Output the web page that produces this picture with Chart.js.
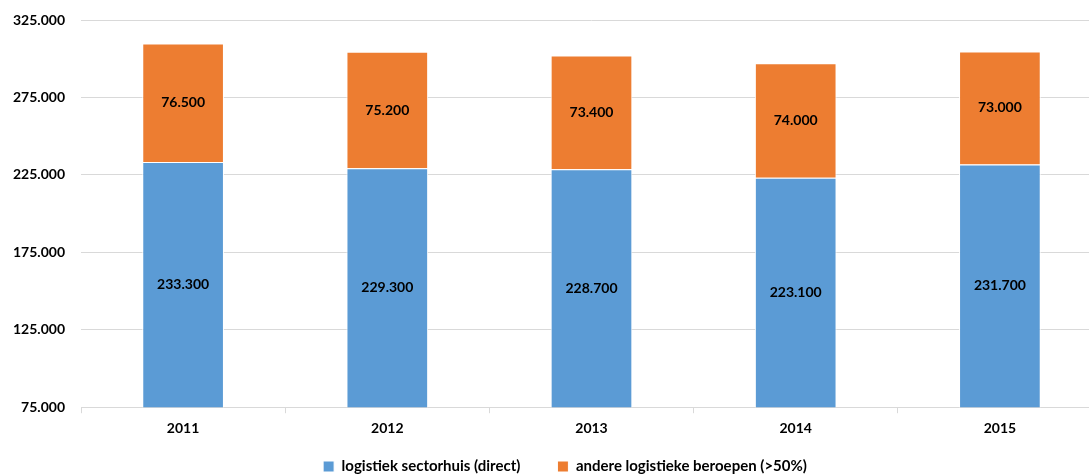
<!DOCTYPE html>
<html>
<head>
<meta charset="utf-8">
<script src="https://cdn.jsdelivr.net/npm/chart.js@4/dist/chart.umd.min.js"></script>
<style>
  html, body { margin: 0; padding: 0; background: #fff; overflow: hidden; }
  canvas { display: block; }
</style>
</head>
<body>
<canvas id="chart" width="1130" height="476"></canvas>
<script>
const years = ['2011', '2012', '2013', '2014', '2015']
const sectorhuis = [233300, 229300, 228700, 223100, 231700]
const andere = [76500, 75200, 73400, 74000, 73000]
const seriesNames = ['logistiek sectorhuis (direct)', 'andere logistieke beroepen (>50%)']
const yMin = 75000, yMax = 325000, yStep = 50000

const FONT = 'Lato'
const fmt = v => String(v).replace(/\B(?=(\d{3})+(?!\d))/g, '.')

// labels in the middle of each bar segment
const segmentLabels = {
  id: 'segmentLabels',
  afterLayout(chart) {
    // legend padding is also used vertically, pull the row up a bit
    const lg = chart.legend
    if (lg) { lg.top -= 22; lg.bottom -= 22 }
  },
  afterDatasetsDraw(chart) {
    const ctx = chart.ctx
    const bottom = chart.chartArea.bottom
    ctx.save()
    ctx.font = `bold 14px ${FONT}`
    ctx.fillStyle = '#000'
    ctx.textAlign = 'center'
    ctx.textBaseline = 'middle'
    chart.data.datasets.forEach((ds, di) => {
      const meta = chart.getDatasetMeta(di)
      meta.data.forEach((bar, i) => {
        const base = Math.min(bar.base, bottom)
        ctx.fillText(fmt(ds.data[i]), bar.x, (bar.y + base) / 2)
      })
    })
    ctx.restore()
  }
}

new Chart(document.getElementById('chart'), {
  type: 'bar',
  data: {
    labels: years,
    datasets: [
      {label: seriesNames[0], data: sectorhuis, backgroundColor: '#5B9BD5', borderColor: '#fff', borderWidth: 1},
      {label: seriesNames[1], data: andere, backgroundColor: '#ED7D31', borderColor: '#fff', borderWidth: 1}
    ]
  },
  options: {
    responsive: false,
    animation: false,
    barPercentage: 0.4,
    categoryPercentage: 1,
    layout: {padding: {top: 20, left: 0, right: 0, bottom: -30}},
    plugins: {
      tooltip: {enabled: false},
      legend: {
        position: 'bottom',
        labels: {
          boxWidth: 11,
          boxHeight: 11,
          padding: 37,
          color: '#000',
          font: {family: FONT, size: 15, weight: 'bold'}
        }
      }
    },
    scales: {
      x: {
        stacked: true,
        grid: {drawOnChartArea: false, drawTicks: true, tickLength: 6, color: '#D9D9D9'},
        border: {color: '#D9D9D9'},
        ticks: {padding: 7, color: '#000', font: {family: FONT, size: 14, weight: 'bold'}}
      },
      y: {
        stacked: true,
        min: yMin,
        max: yMax,
        // invisible tick marks keep the labels off the plot without big tick padding
        grid: {color: '#D9D9D9', drawTicks: true, tickLength: 12, tickColor: 'rgba(0,0,0,0)'},
        border: {display: false},
        ticks: {
          stepSize: yStep,
          padding: 4,
          color: '#000',
          font: {family: FONT, size: 14, weight: 'bold'},
          callback: v => fmt(v)
        },
        afterFit: scale => { scale.width = 81 }
      },
      // empty right box so the plot runs past the window edge like the original
      yRight: {
        position: 'right',
        grid: {display: false},
        border: {display: false},
        ticks: {display: false},
        afterFit: scale => { scale.width = 28 }
      }
    }
  },
  plugins: [segmentLabels]
})
</script>
</body>
</html>
